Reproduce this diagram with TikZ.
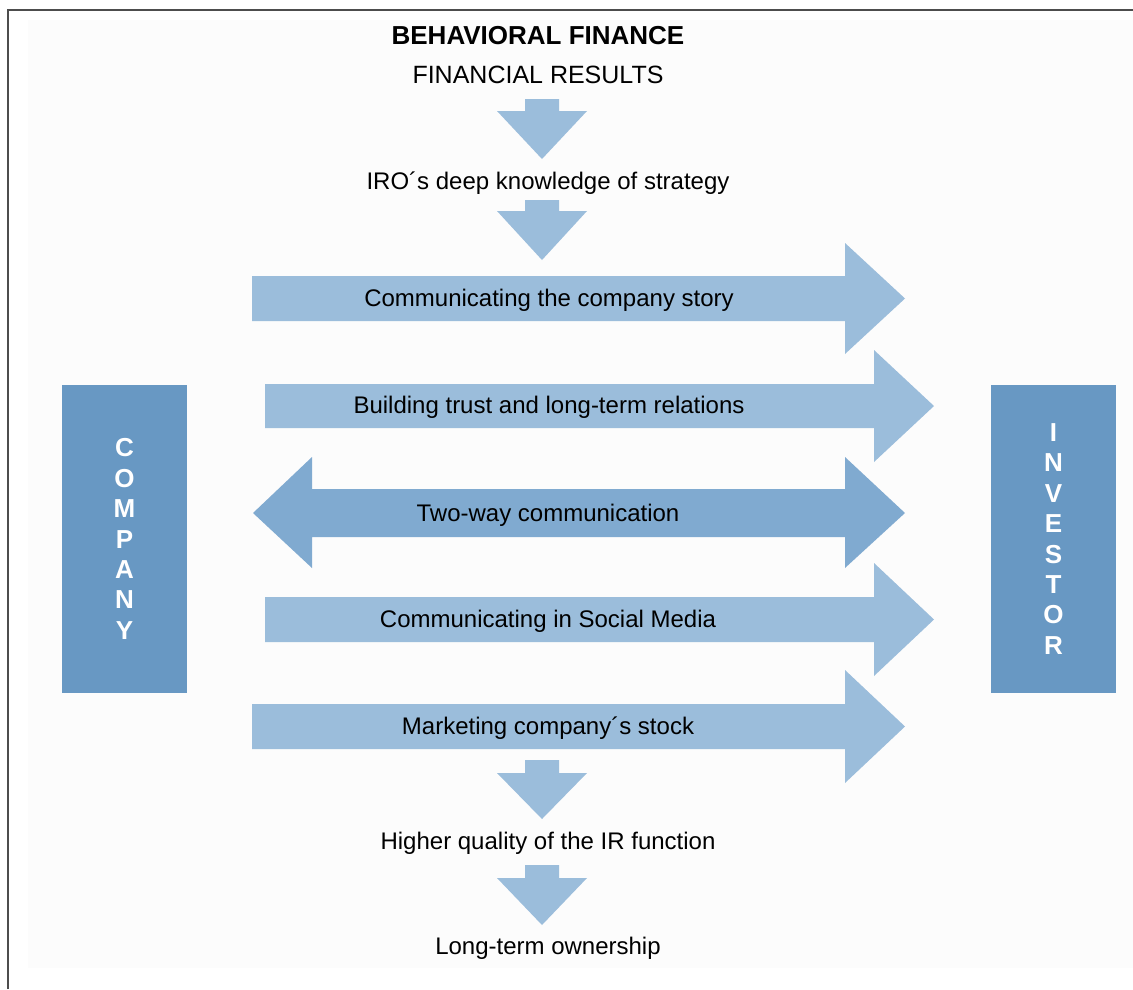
\documentclass[tikz,border=0pt]{standalone}
\usepackage{fontspec}
\setmainfont{Liberation Sans}
\definecolor{arrowlight}{HTML}{9BBDDB}
\definecolor{arrowmid}{HTML}{80AAD0}
\definecolor{boxblue}{HTML}{6898C3}
\definecolor{bgcol}{HTML}{FCFCFC}
\definecolor{framecol}{HTML}{4D4D4D}
\newcommand\dnarrowshape[3]{%
  \fill[arrowlight] (525,#1) -- (559,#1) -- (559,#2) -- (587,#2) -- (542,#3) -- (497,#2) -- (525,#2) -- cycle;}
\tikzset{
  lbl/.style={inner sep=0pt, anchor=base, text=black, font=\fontsize{24}{29}\selectfont},
  titlelbl/.style={inner sep=0pt, anchor=base, text=black, font=\fontsize{26}{31}\selectfont\bfseries},
  sidebox/.style={fill=boxblue, draw=none, minimum width=125pt, minimum height=308pt, inner sep=0pt,
    align=center, text=white, font=\fontsize{26}{30.4}\selectfont\bfseries},
}
\begin{document}
\begin{tikzpicture}[x=1pt, y=-1pt]
\useasboundingbox (0,0) rectangle (1133,989);
\fill[white] (0,0) rectangle (1133,989);
\fill[bgcol] (28,20) rectangle (1133,968);
\draw[framecol, line width=2.2pt] (8,989) -- (8,10) -- (1133,10);

% titles
\node[titlelbl] (title) at (538,44) {BEHAVIORAL FINANCE};
\node[lbl, font=\fontsize{25}{30}\selectfont] (finres) at (538,83) {FINANCIAL RESULTS};

% down arrows
\dnarrowshape{99}{111}{159}
\node[lbl] (iro) at (548,189) {IRO´s deep knowledge of strategy};
\dnarrowshape{200}{211}{260}

% horizontal arrows
\fill[arrowlight] (252,276) -- (845,276) -- (845,243) -- (905,298.5) -- (845,354) -- (845,321) -- (252,321) -- cycle;
\node[lbl] (story) at (549,306) {Communicating the company story};

\fill[arrowlight] (265,384) -- (874,384) -- (874,350) -- (934,406) -- (874,462) -- (874,428) -- (265,428) -- cycle;
\node[lbl] (trust) at (549,413) {Building trust and long-term relations};

\fill[arrowmid] (253,513) -- (312,457) -- (312,489) -- (845,489) -- (845,457) -- (905,513) -- (845,568) -- (845,537) -- (312,537) -- (312,568) -- cycle;
\node[lbl] (twoway) at (548,521) {Two-way communication};

\fill[arrowlight] (265,597) -- (874,597) -- (874,563) -- (934,619.5) -- (874,676) -- (874,642) -- (265,642) -- cycle;
\node[lbl] (social) at (548,627) {Communicating in Social Media};

\fill[arrowlight] (252,704) -- (845,704) -- (845,670) -- (905,726.5) -- (845,783) -- (845,749) -- (252,749) -- cycle;
\node[lbl] (stock) at (548,734) {Marketing company´s stock};

\dnarrowshape{760}{773}{819}
\node[lbl] (quality) at (548,849) {Higher quality of the IR function};
\dnarrowshape{865}{878}{925}
\node[lbl] (owner) at (548,954) {Long-term ownership};

% side boxes
\node[sidebox] (company) at (124.5,539) {C\\O\\M\\P\\A\\N\\Y};
\node[sidebox] (investor) at (1053.5,539) {I\\N\\V\\E\\S\\T\\O\\R};
\end{tikzpicture}
\end{document}
